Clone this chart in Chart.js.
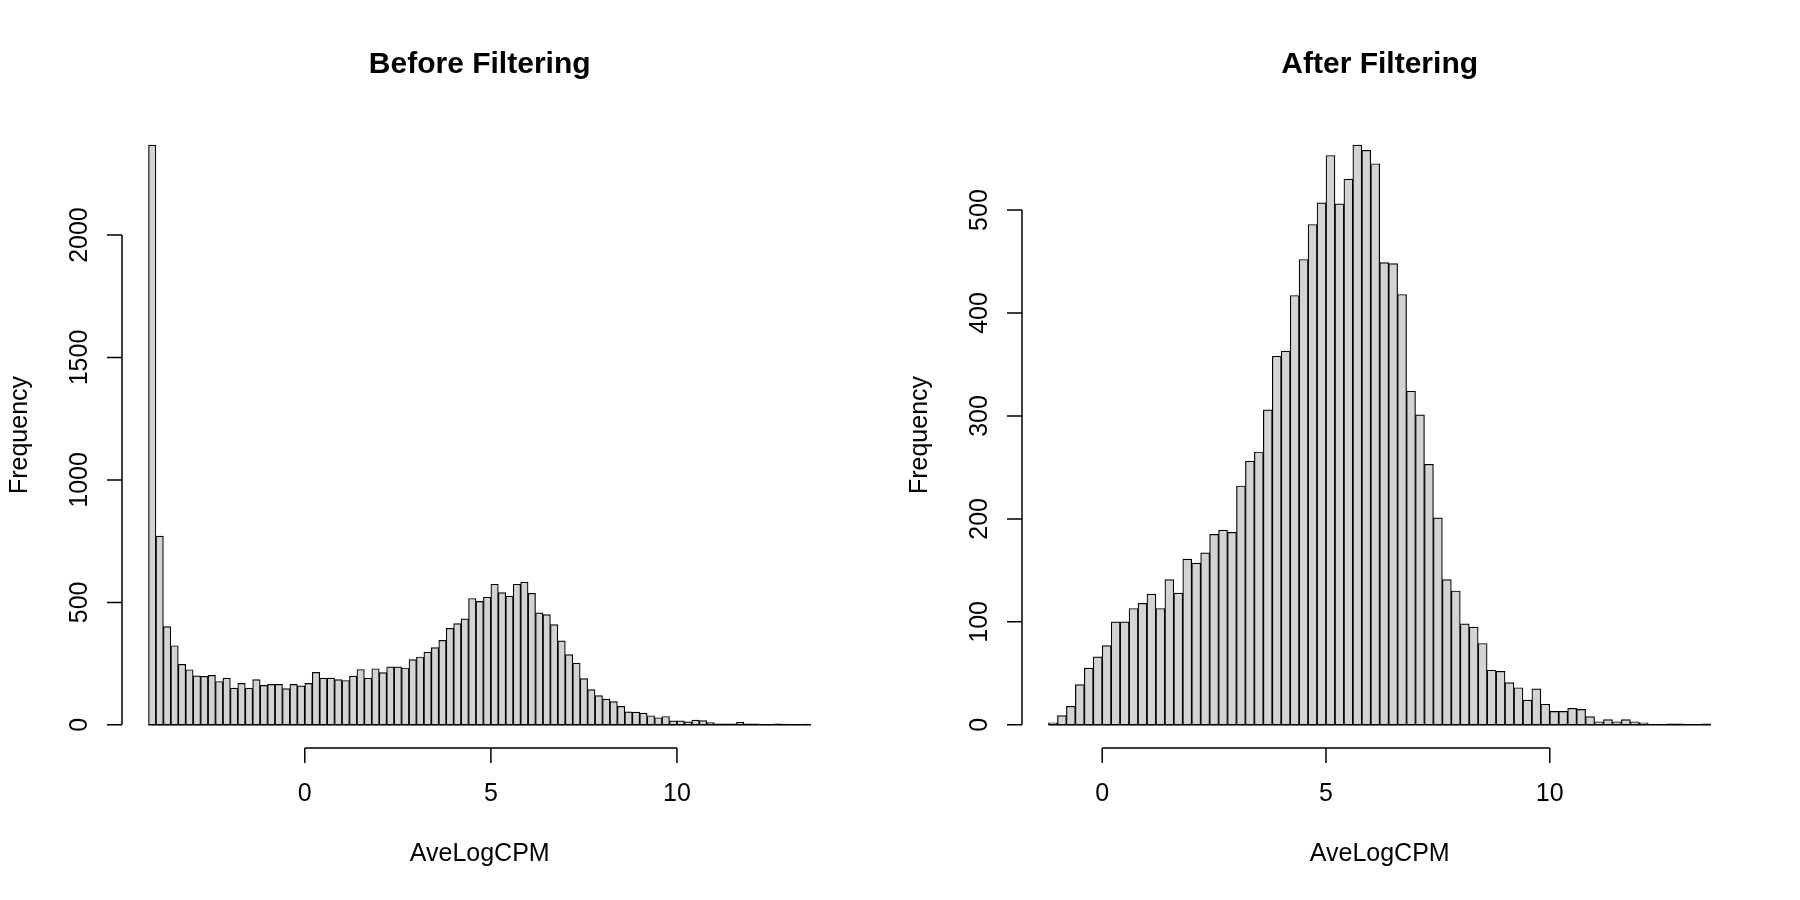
<!DOCTYPE html>
<html>
<head>
<meta charset="utf-8">
<script src="https://cdn.jsdelivr.net/npm/chart.js@4.4.0/dist/chart.umd.min.js"></script>
<style>
  html, body { margin: 0; padding: 0; background: #fff; overflow: hidden; }
  .panel { display: inline-block; width: 900px; height: 900px; vertical-align: top; }
  canvas { display: block; }
</style>
</head>
<body>
<div class="panel"><canvas id="before" width="900" height="900"></canvas></div><div class="panel"><canvas id="after" width="900" height="900"></canvas></div>
<script>
// bin midpoints (bin width 0.2) and counts
const beforeMids = [
  -4.1, -3.9, -3.7, -3.5, -3.3, -3.1, -2.9, -2.7, -2.5, -2.3,
  -2.1, -1.9, -1.7, -1.5, -1.3, -1.1, -0.9, -0.7, -0.5, -0.3,
  -0.1, 0.1, 0.3, 0.5, 0.7, 0.9, 1.1, 1.3, 1.5, 1.7,
  1.9, 2.1, 2.3, 2.5, 2.7, 2.9, 3.1, 3.3, 3.5, 3.7,
  3.9, 4.1, 4.3, 4.5, 4.7, 4.9, 5.1, 5.3, 5.5, 5.7,
  5.9, 6.1, 6.3, 6.5, 6.7, 6.9, 7.1, 7.3, 7.5, 7.7,
  7.9, 8.1, 8.3, 8.5, 8.7, 8.9, 9.1, 9.3, 9.5, 9.7,
  9.9, 10.1, 10.3, 10.5, 10.7, 10.9, 11.1, 11.3, 11.5, 11.7,
  11.9, 12.1, 12.3, 12.5, 12.7, 12.9, 13.1, 13.3, 13.5
];
const beforeCounts = [
  2367, 771, 401, 323, 247, 225, 200, 198, 202, 177,
  191, 150, 169, 150, 185, 161, 165, 165, 148, 165,
  159, 169, 214, 191, 191, 185, 181, 199, 226, 191,
  229, 213, 237, 237, 232, 266, 277, 297, 315, 345,
  394, 413, 433, 516, 504, 521, 574, 540, 525, 574,
  583, 537, 457, 450, 409, 343, 287, 252, 189, 144,
  119, 105, 95, 75, 53, 52, 48, 37, 29, 34,
  16, 16, 12, 19, 17, 9, 4, 4, 4, 10,
  4, 4, 2, 2, 4, 3, 1, 1, 3
];
const afterMids = [
  -1.1, -0.9, -0.7, -0.5, -0.3, -0.1, 0.1, 0.3, 0.5, 0.7,
  0.9, 1.1, 1.3, 1.5, 1.7, 1.9, 2.1, 2.3, 2.5, 2.7,
  2.9, 3.1, 3.3, 3.5, 3.7, 3.9, 4.1, 4.3, 4.5, 4.7,
  4.9, 5.1, 5.3, 5.5, 5.7, 5.9, 6.1, 6.3, 6.5, 6.7,
  6.9, 7.1, 7.3, 7.5, 7.7, 7.9, 8.1, 8.3, 8.5, 8.7,
  8.9, 9.1, 9.3, 9.5, 9.7, 9.9, 10.1, 10.3, 10.5, 10.7,
  10.9, 11.1, 11.3, 11.5, 11.7, 11.9, 12.1, 12.3, 12.5, 12.7,
  12.9, 13.1, 13.3, 13.5
];
const afterCounts = [
  2, 9, 18, 39, 55, 66, 77, 100, 100, 113,
  118, 127, 113, 141, 128, 161, 157, 167, 185, 189,
  187, 232, 256, 265, 306, 358, 363, 417, 452, 486,
  507, 553, 506, 530, 563, 558, 545, 449, 448, 418,
  324, 301, 253, 201, 141, 130, 98, 95, 79, 53,
  52, 41, 36, 24, 35, 20, 13, 13, 16, 15,
  8, 3, 5, 3, 5, 3, 2, 0, 0, 1,
  1, 0, 0, 1
];
const beforeYTicks = [0, 500, 1000, 1500, 2000];
const afterYTicks = [0, 100, 200, 300, 400, 500];
const xTicks = [0, 5, 10];
const binWidth = 0.2;

const FONT = '"Liberation Sans", Arial, Helvetica, sans-serif';

// R-style detached axes: line only from first to last tick, ticks pointing out
const rAxes = {
  id: "rAxes",
  afterDatasetsDraw(chart, args, opts) {
    const ctx = chart.ctx;
    const xs = chart.scales.x;
    const ys = chart.scales.y;
    const area = chart.chartArea;
    const y0 = ys.getPixelForValue(0);

    ctx.save();
    ctx.strokeStyle = "#000";
    ctx.fillStyle = "#000";
    ctx.lineWidth = 1.5;

    // bottom edges of the bars (shows the zero-count bins too)
    ctx.beginPath();
    ctx.moveTo(xs.getPixelForValue(opts.mids[0] - binWidth / 2), y0);
    ctx.lineTo(xs.getPixelForValue(opts.mids[opts.mids.length - 1] + binWidth / 2), y0);
    ctx.stroke();

    // x axis
    const xb = area.bottom;
    ctx.beginPath();
    ctx.moveTo(xs.getPixelForValue(opts.xTicks[0]), xb);
    ctx.lineTo(xs.getPixelForValue(opts.xTicks[opts.xTicks.length - 1]), xb);
    opts.xTicks.forEach(t => {
      const px = xs.getPixelForValue(t);
      ctx.moveTo(px, xb);
      ctx.lineTo(px, xb + 15);
    });
    ctx.stroke();

    ctx.font = "25px " + FONT;
    ctx.textAlign = "center";
    ctx.textBaseline = "alphabetic";
    opts.xTicks.forEach(t => {
      ctx.fillText(String(t), xs.getPixelForValue(t), xb + 53);
    });
    ctx.fillText(opts.xTitle, (area.left + area.right) / 2, xb + 113);

    // y axis
    const yl = area.left;
    ctx.beginPath();
    ctx.moveTo(yl, ys.getPixelForValue(opts.yTicks[0]));
    ctx.lineTo(yl, ys.getPixelForValue(opts.yTicks[opts.yTicks.length - 1]));
    opts.yTicks.forEach(t => {
      const py = ys.getPixelForValue(t);
      ctx.moveTo(yl, py);
      ctx.lineTo(yl - 15, py);
    });
    ctx.stroke();

    opts.yTicks.forEach(t => {
      ctx.save();
      ctx.translate(yl - 35, ys.getPixelForValue(t));
      ctx.rotate(-Math.PI / 2);
      ctx.fillText(String(t), 0, 0);
      ctx.restore();
    });
    ctx.save();
    ctx.translate(yl - 95, (area.top + area.bottom) / 2);
    ctx.rotate(-Math.PI / 2);
    ctx.fillText(opts.yTitle, 0, 0);
    ctx.restore();

    ctx.restore();
  }
};

function drawHist(canvasId, title, mids, counts, yTicks) {
  const lo = mids[0] - binWidth / 2;
  const hi = mids[mids.length - 1] + binWidth / 2;
  const top = Math.max(...counts);
  const points = mids.map((m, i) => ({ x: m, y: counts[i] }));

  new Chart(document.getElementById(canvasId), {
    type: "bar",
    data: {
      datasets: [
        {
          label: title,
          data: points,
          backgroundColor: "#d3d3d3",
          borderColor: "#000",
          borderWidth: 1.2,
          borderSkipped: false,
          barPercentage: 1,
          categoryPercentage: 1,
        },
      ],
    },
    options: {
      responsive: false,
      animation: false,
      devicePixelRatio: 1,
      events: [],
      layout: { padding: { left: 122, right: 62.6, top: 0, bottom: 152 } },
      scales: {
        // R pads the data range by 4% on each side
        x: {
          type: "linear",
          display: false,
          offset: false,
          min: lo - 0.04 * (hi - lo),
          max: hi + 0.04 * (hi - lo),
        },
        y: {
          type: "linear",
          display: false,
          min: -0.04 * top,
          max: 1.04 * top,
        },
      },
      plugins: {
        legend: { display: false },
        tooltip: { enabled: false },
        title: {
          display: true,
          text: title,
          color: "#000",
          font: { family: FONT, size: 30, weight: "bold", lineHeight: 1.2 },
          padding: { top: 47, bottom: 39 },
        },
        rAxes: {
          mids: mids,
          xTicks: xTicks,
          yTicks: yTicks,
          xTitle: "AveLogCPM",
          yTitle: "Frequency",
        },
      },
    },
    plugins: [rAxes],
  });
}

drawHist("before", "Before Filtering", beforeMids, beforeCounts, beforeYTicks);
drawHist("after", "After Filtering", afterMids, afterCounts, afterYTicks);
</script>
</body>
</html>
